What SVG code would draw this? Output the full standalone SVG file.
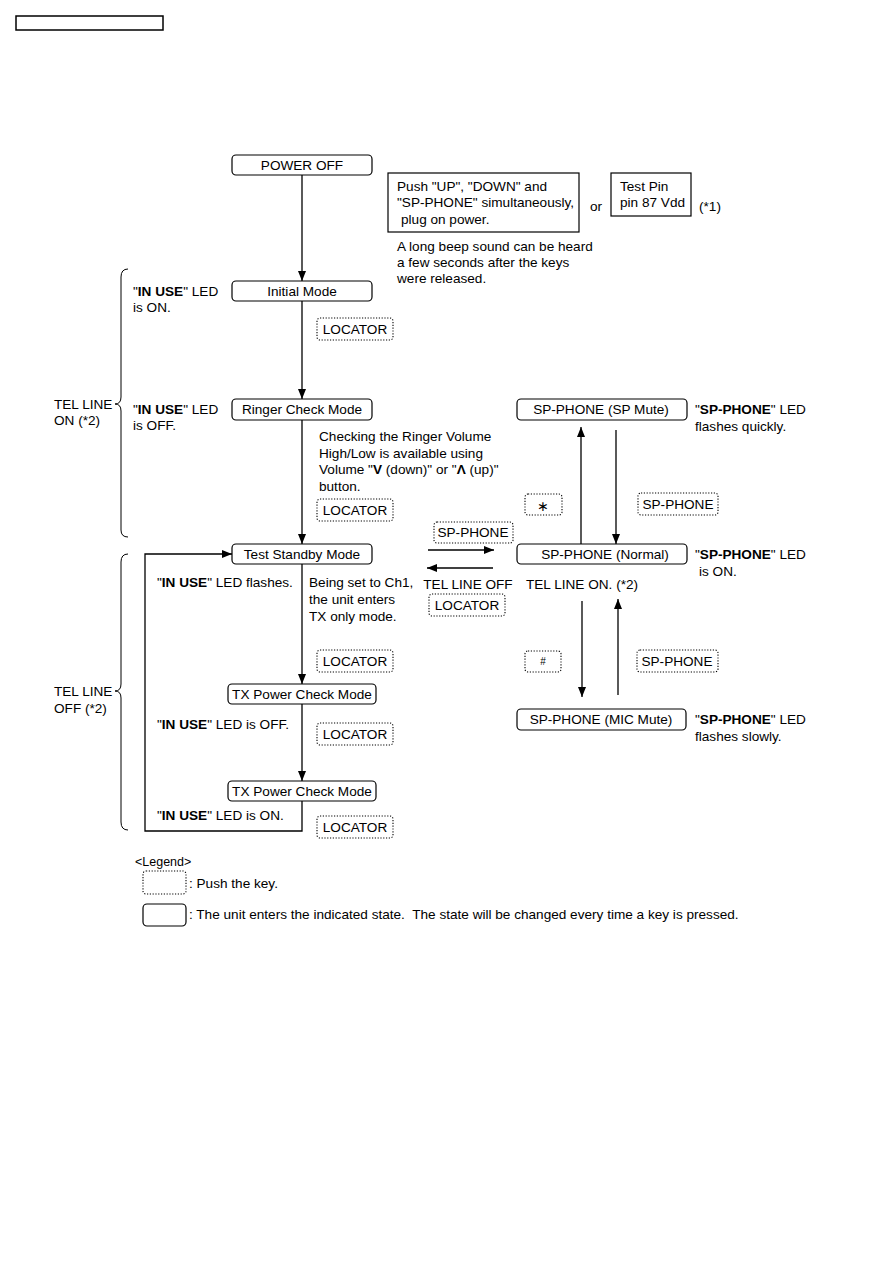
<svg xmlns="http://www.w3.org/2000/svg" width="893" height="1263" viewBox="0 0 893 1263">
<defs>
<marker id="ah" markerWidth="10" markerHeight="8" refX="10" refY="4" orient="auto" markerUnits="userSpaceOnUse">
<path d="M0,0 L10,4 L0,8 Z" fill="#000"/>
</marker>
<style>
text{font-family:"Liberation Sans",Arial,sans-serif;font-size:13.6px;fill:#000}
.c{text-anchor:middle}
.b{font-weight:bold}
.st{fill:#fff;stroke:#000;stroke-width:1.2}
.key{fill:#fff;stroke:#000;stroke-width:1.1;stroke-dasharray:1.2,1.6}
.ln{fill:none;stroke:#000;stroke-width:1.3}
.br{fill:none;stroke:#000;stroke-width:1}
</style>
</defs>
<rect width="893" height="1263" fill="#fff"/>
<rect x="16" y="16" width="147" height="14" fill="none" stroke="#000" stroke-width="1.5"/>

<g id="connectors">
<line class="ln" x1="302" y1="175" x2="302" y2="281" marker-end="url(#ah)"/>
<line class="ln" x1="302" y1="301" x2="302" y2="399" marker-end="url(#ah)"/>
<line class="ln" x1="302" y1="420" x2="302" y2="544" marker-end="url(#ah)"/>
<line class="ln" x1="302" y1="564" x2="302" y2="684" marker-end="url(#ah)"/>
<line class="ln" x1="302" y1="704" x2="302" y2="781" marker-end="url(#ah)"/>
<polyline class="ln" points="302,801 302,831 145,831 145,554 232,554" marker-end="url(#ah)"/>
<line class="ln" x1="581" y1="544" x2="581" y2="427" marker-end="url(#ah)"/>
<line class="ln" x1="616" y1="430" x2="616" y2="544" marker-end="url(#ah)"/>
<line class="ln" x1="428" y1="550" x2="494" y2="550" marker-end="url(#ah)"/>
<line class="ln" x1="493" y1="568" x2="427" y2="568" marker-end="url(#ah)"/>
<line class="ln" x1="582" y1="601" x2="582" y2="697" marker-end="url(#ah)"/>
<line class="ln" x1="618" y1="695" x2="618" y2="599" marker-end="url(#ah)"/>
</g>

<g id="braces">
<path class="br" d="M128,269 Q121,269 121,277 L121,397 Q121,404 115,404 Q121,404 121,411 L121,530 Q121,537 128,537"/>
<path class="br" d="M128,554 Q121,554 121,562 L121,684 Q121,691 115,691 Q121,691 121,698 L121,822 Q121,830 128,830"/>
<text x="54" y="409">TEL LINE</text>
<text x="54" y="425">ON (*2)</text>
<text x="54" y="696">TEL LINE</text>
<text x="54" y="713">OFF (*2)</text>
</g>

<g id="power-off"><rect class="st" x="232" y="155" width="140" height="20" rx="4"/><text class="c" x="302" y="170">POWER OFF</text></g>

<g id="push-keys">
<rect x="388" y="173" width="191" height="59" fill="#fff" stroke="#000" stroke-width="1.2"/>
<text x="397" y="191">Push "UP", "DOWN" and</text>
<text x="397" y="207">"SP-PHONE" simultaneously,</text>
<text x="401" y="224">plug on power.</text>
</g>
<text x="590" y="211">or</text>
<g id="test-pin">
<rect x="611" y="173" width="80" height="43" fill="#fff" stroke="#000" stroke-width="1.2"/>
<text x="620" y="191">Test Pin</text>
<text x="620" y="207">pin 87 Vdd</text>
</g>
<text x="699" y="211">(*1)</text>
<text x="397" y="251">A long beep sound can be heard</text>
<text x="397" y="267">a few seconds after the keys</text>
<text x="397" y="283">were released.</text>

<g id="initial-mode"><rect class="st" x="232" y="281" width="140" height="20" rx="4"/><text class="c" x="302" y="296">Initial Mode</text></g>
<text x="133" y="296">"<tspan class="b">IN USE</tspan>" LED</text>
<text x="133" y="312">is ON.</text>
<g id="key-locator-1"><rect class="key" x="317" y="318" width="76" height="22" rx="3"/><text class="c" x="355" y="334">LOCATOR</text></g>

<g id="ringer-check"><rect class="st" x="232" y="399" width="140" height="21" rx="4"/><text class="c" x="302" y="414">Ringer Check Mode</text></g>
<text x="133" y="414">"<tspan class="b">IN USE</tspan>" LED</text>
<text x="133" y="430">is OFF.</text>
<text x="319" y="441">Checking the Ringer Volume</text>
<text x="319" y="458">High/Low is available using</text>
<text x="319" y="474">Volume "<tspan class="b">V</tspan> (down)" or "<tspan class="b">Λ</tspan> (up)"</text>
<text x="319" y="491">button.</text>
<g id="key-locator-2"><rect class="key" x="317" y="499" width="76" height="22" rx="3"/><text class="c" x="355" y="515">LOCATOR</text></g>

<g id="test-standby"><rect class="st" x="232" y="544" width="140" height="20" rx="4"/><text class="c" x="302" y="559">Test Standby Mode</text></g>
<text x="157" y="587">"<tspan class="b">IN USE</tspan>" LED flashes.</text>
<text x="309" y="587">Being set to Ch1,</text>
<text x="309" y="604">the unit enters</text>
<text x="309" y="621">TX only mode.</text>
<g id="key-locator-3"><rect class="key" x="317" y="650" width="76" height="22" rx="3"/><text class="c" x="355" y="666">LOCATOR</text></g>

<g id="tx-power-1"><rect class="st" x="228" y="684" width="148" height="20" rx="4"/><text class="c" x="302" y="699">TX Power Check Mode</text></g>
<text x="157" y="729">"<tspan class="b">IN USE</tspan>" LED is OFF.</text>
<g id="key-locator-4"><rect class="key" x="317" y="723" width="76" height="22" rx="3"/><text class="c" x="355" y="739">LOCATOR</text></g>

<g id="tx-power-2"><rect class="st" x="228" y="781" width="148" height="20" rx="4"/><text class="c" x="302" y="796">TX Power Check Mode</text></g>
<text x="157" y="820">"<tspan class="b">IN USE</tspan>" LED is ON.</text>
<g id="key-locator-5"><rect class="key" x="317" y="816" width="76" height="22" rx="3"/><text class="c" x="355" y="832">LOCATOR</text></g>

<g id="sp-mute"><rect class="st" x="517" y="399" width="170" height="21" rx="4"/><text class="c" x="601" y="414">SP-PHONE (SP Mute)</text></g>
<text x="695" y="414">"<tspan class="b">SP-PHONE</tspan>" LED</text>
<text x="695" y="431">flashes quickly.</text>
<g id="key-star"><rect class="key" x="525" y="494" width="37" height="21" rx="3"/><text class="c" x="543" y="511" style="font-family:'DejaVu Sans',sans-serif;font-size:14px">∗</text></g>
<g id="key-sp-1"><rect class="key" x="638" y="493" width="80" height="22" rx="3"/><text class="c" x="678" y="509">SP-PHONE</text></g>

<g id="sp-normal"><rect class="st" x="517" y="544" width="170" height="20" rx="4"/><text class="c" x="605" y="559">SP-PHONE (Normal)</text></g>
<text x="695" y="559">"<tspan class="b">SP-PHONE</tspan>" LED</text>
<text x="699" y="576">is ON.</text>
<g id="key-sp-2"><rect class="key" x="434" y="522" width="79" height="21" rx="3"/><text class="c" x="473" y="537">SP-PHONE</text></g>
<text class="c" x="468" y="589">TEL LINE OFF</text>
<text x="526" y="589">TEL LINE ON. (*2)</text>
<g id="key-locator-6"><rect class="key" x="429" y="594" width="76" height="22" rx="3"/><text class="c" x="467" y="610">LOCATOR</text></g>

<g id="key-hash"><rect class="key" x="525" y="651" width="36" height="21" rx="3"/><text class="c" x="543" y="665" style="font-size:10px">#</text></g>
<g id="key-sp-3"><rect class="key" x="637" y="650" width="81" height="22" rx="3"/><text class="c" x="677" y="666">SP-PHONE</text></g>

<g id="sp-mic-mute"><rect class="st" x="517" y="709" width="169" height="21" rx="4"/><text class="c" x="601" y="724">SP-PHONE (MIC Mute)</text></g>
<text x="695" y="724">"<tspan class="b">SP-PHONE</tspan>" LED</text>
<text x="695" y="741">flashes slowly.</text>

<g id="legend">
<text x="135" y="866" style="font-size:12.5px">&lt;Legend&gt;</text>
<rect class="key" x="143" y="871" width="43" height="23" rx="3"/>
<text x="189" y="888">: Push the key.</text>
<rect class="st" x="143" y="904" width="43" height="22" rx="4"/>
<text x="189" y="919" xml:space="preserve">: The unit enters the indicated state.  The state will be changed every time a key is pressed.</text>
</g>
</svg>
